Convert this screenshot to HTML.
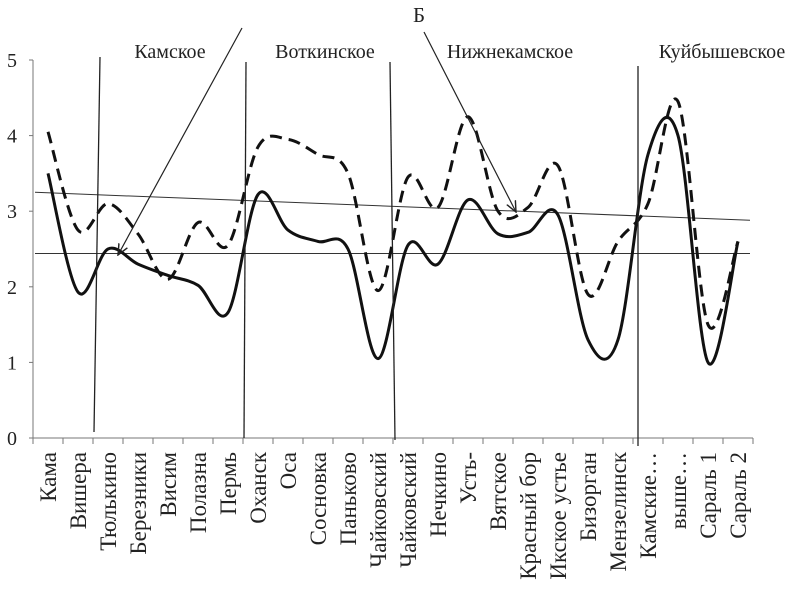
<!DOCTYPE html>
<html><head><meta charset="utf-8"><style>
body{margin:0;background:#fff;}
svg{display:block;font-family:"Liberation Serif","DejaVu Serif",serif;}
</style></head><body>
<svg id="c" width="807" height="592"></svg>
<script>
const categories=["Кама","Вишера","Тюлькино","Березники","Висим","Полазна","Пермь","Оханск","Оса","Сосновка","Паньково","Чайковский","Чайковский","Нечкино","Усть-","Вятское","Красный бор","Икское устье","Бизорган","Мензелинск","Камские…","выше…","Сараль 1","Сараль 2"];
const seriesSolid=[3.5,1.93,2.5,2.3,2.15,2.02,1.66,3.22,2.75,2.6,2.5,1.05,2.55,2.3,3.15,2.7,2.72,2.95,1.3,1.3,3.75,4.0,1.0,2.6];
const seriesDashed=[4.05,2.75,3.1,2.7,2.1,2.85,2.55,3.85,3.95,3.75,3.5,1.95,3.45,3.05,4.25,3.0,3.05,3.6,1.9,2.6,3.1,4.45,1.5,2.6];
const yTicks=[0,1,2,3,4,5];
const trendUpper=[3.25,2.88];
const trendLower=[2.44,2.44];
const NS="http://www.w3.org/2000/svg";
const svg=document.getElementById('c');
const x0=33,x1=753,y0=438,yTop=60;
const step=(x1-x0)/categories.length;
const X=i=>x0+step*(i+0.5);
const Y=v=>y0-(v/5)*(y0-yTop);
function mk(t,a,p){const e=document.createElementNS(NS,t);for(const k in a)e.setAttribute(k,a[k]);(p||svg).appendChild(e);return e;}
const axes=mk('g',{});


let e=mk('line',{x1:x0,y1:y0,x2:x1,y2:y0,stroke:'#777','stroke-width':1},axes);
e=mk('line',{x1:x0,y1:y0,x2:x0,y2:yTop,stroke:'#777','stroke-width':1},axes);
for(let i=0;i<=categories.length;i++){mk('line',{x1:x0+step*i,y1:y0,x2:x0+step*i,y2:y0+6,stroke:'#777'},axes);}
yTicks.forEach(v=>{
 mk('line',{x1:x0-4,y1:Y(v),x2:x0,y2:Y(v),stroke:'#777'},axes);
 const t=mk('text',{x:12,y:Y(v)+7,'font-size':20,'text-anchor':'middle',fill:'#222'},axes);
 t.textContent=v;
 
 
});
categories.forEach((c,i)=>{
 const t=mk('text',{transform:`translate(${X(i)+8},452) rotate(-90)`,'font-size':23,'text-anchor':'end',fill:'#222'});
 t.textContent=c;
 
 
});
function smooth(vals){
 const p=vals.map((v,i)=>[X(i),Y(v)]);
 let d=`M${p[0][0]},${p[0][1]}`;
 for(let i=0;i<p.length-1;i++){
  const a=p[Math.max(0,i-1)],b=p[i],c=p[i+1],n=p[Math.min(p.length-1,i+2)];
  d+=` C${b[0]+(c[0]-a[0])/6},${b[1]+(c[1]-a[1])/6} ${c[0]-(n[0]-b[0])/6},${c[1]-(n[1]-b[1])/6} ${c[0]},${c[1]}`;
 }
 return d;
}
e=mk('line',{x1:x0+2,y1:Y(trendUpper[0]),x2:x1-3,y2:Y(trendUpper[1]),stroke:'#333','stroke-width':1});

e=mk('line',{x1:x0+2,y1:Y(trendLower[0]),x2:x1-3,y2:Y(trendLower[1]),stroke:'#333','stroke-width':1});

e=mk('path',{d:smooth(seriesDashed),fill:'none',stroke:'#111','stroke-width':3,'stroke-dasharray':'12 7'});

e=mk('path',{d:smooth(seriesSolid),fill:'none',stroke:'#111','stroke-width':3});

[[100,57,94,432],[246,62,244,438],[390,62,395,440],[638,66,638,446]].forEach(l=>{
 e=mk('line',{x1:l[0],y1:l[1],x2:l[2],y2:l[3],stroke:'#222','stroke-width':1.3});
 
});
[["Камское",170],["Воткинское",325],["Нижнекамское",510],["Куйбышевское",722]].forEach(r=>{
 const t=mk('text',{x:r[1],y:58,'font-size':20,'text-anchor':'middle',fill:'#222'});
 t.textContent=r[0];
 
});
const defs=mk('defs',{});
const m=mk('marker',{id:'ah',markerWidth:10,markerHeight:10,refX:9,refY:5,orient:'auto'},defs);
mk('path',{d:'M0,1 L9,5 L0,9',fill:'none',stroke:'#222','stroke-width':1.2},m);
e=mk('line',{x1:242,y1:28,x2:118,y2:255,stroke:'#222','stroke-width':1.2,'marker-end':'url(#ah)'});

e=mk('line',{x1:424,y1:32,x2:516,y2:212,stroke:'#222','stroke-width':1.2,'marker-end':'url(#ah)'});

const b=mk('text',{x:419,y:22,'font-size':21,'text-anchor':'middle',fill:'#222'});
b.textContent='Б';

</script>
</body></html>
